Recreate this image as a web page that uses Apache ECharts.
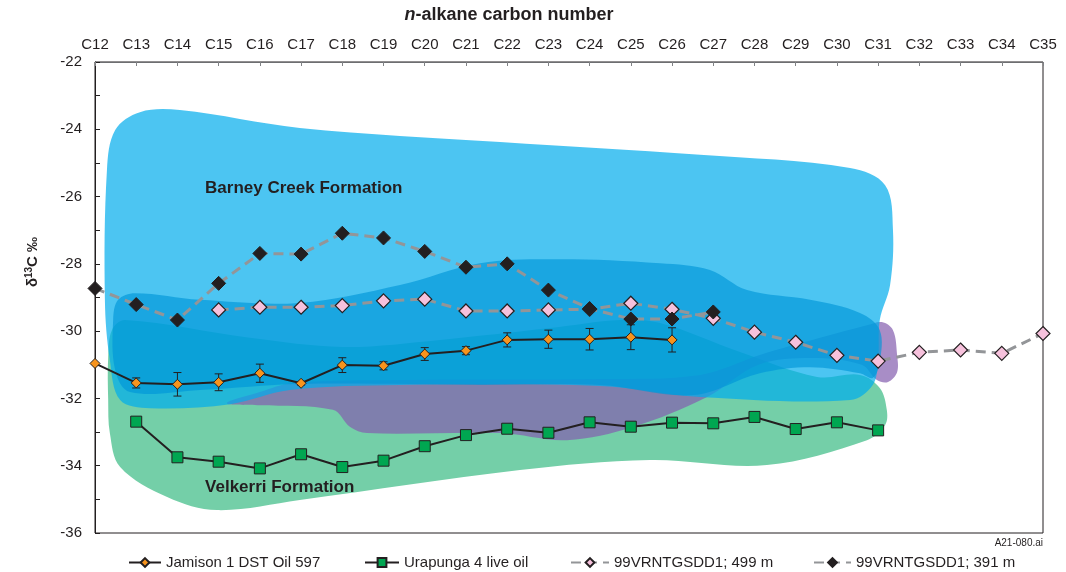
<!DOCTYPE html>
<html>
<head>
<meta charset="utf-8">
<title>n-alkane carbon isotopes</title>
<style>
  html, body { margin: 0; padding: 0; background: #fff; }
  #chart { width: 1066px; height: 572px; }
</style>
<script src="https://cdn.jsdelivr.net/npm/echarts@6/dist/echarts.min.js"></script>
</head>
<body>
<div id="chart"></div>
<script>
// ── data ─────────────────────────────────────────────────────────────
const carbonLabels = ['C12','C13','C14','C15','C16','C17','C18','C19','C20','C21','C22','C23',
                      'C24','C25','C26','C27','C28','C29','C30','C31','C32','C33','C34','C35'];

const jamison = [-30.96,-31.54,-31.58,-31.52,-31.25,-31.55,-31.01,-31.03,-30.68,-30.58,-30.26,-30.24,
                 -30.24,-30.18,-30.26,null,null,null,null,null,null,null,null,null];
const jamisonErr = [0,0.15,0.35,0.25,0.27,0.05,0.22,0.12,0.19,0.12,0.21,0.27,0.32,0.37,0.36];

const urapunga = [null,-32.69,-33.75,-33.88,-34.08,-33.66,-34.04,-33.85,-33.42,-33.09,-32.90,-33.02,
                  -32.71,-32.84,-32.72,-32.74,-32.55,-32.91,-32.71,-32.95,null,null,null,null];

const vrn499 = [null,null,null,-29.37,-29.29,-29.29,-29.24,-29.10,-29.05,-29.40,-29.40,-29.37,
                -29.35,-29.17,-29.35,-29.62,-30.03,-30.33,-30.72,-30.89,-30.63,-30.56,-30.66,-30.07];

const vrn391 = [-28.73,-29.21,-29.67,-28.58,-27.69,-27.71,-27.09,-27.23,-27.63,-28.10,-28.00,-28.78,
                -29.33,-29.64,-29.64,-29.43,null,null,null,null,null,null,null,null];

// formation envelopes, [carbon number, d13C]
const barneyOutline = [[12.49,-24.02],[13.09,-23.49],[14.06,-23.43],[16.97,-23.96],[21.83,-24.38],
  [26.68,-24.76],[30.32,-25.15],[31.17,-25.66],[31.36,-26.99],[31.29,-28.63],[31.04,-29.67],
  [31.00,-30.86],[30.87,-31.60],[30.32,-32.05],[26.68,-31.96],[24.25,-31.63],[19.40,-31.60],
  [16.73,-31.75],[15.28,-32.17],[13.33,-32.29],[12.61,-32.05],[12.36,-30.86],[12.24,-29.07],[12.29,-25.21]];

const innerOutline = [[12.56,-29.07],[12.97,-28.87],[14.55,-29.07],[16.97,-29.16],[19.40,-28.63],
  [21.34,-27.98],[23.28,-27.86],[25.71,-27.98],[26.92,-28.18],[27.82,-28.78],[29.35,-29.07],
  [30.56,-29.46],[31.04,-29.97],[31.04,-30.92],[30.87,-31.39],[30.56,-31.25],[29.35,-31.07],
  [28.13,-31.25],[26.51,-31.90],[24.25,-31.60],[21.34,-31.60],[16.97,-31.57],[14.55,-31.75],
  [12.85,-31.81],[12.49,-31.16],[12.44,-29.67]];

const velkerriOutline = [[12.32,-30.77],[12.41,-29.97],[12.73,-29.67],[15.76,-30.20],[18.02,-30.47],
  [20.37,-30.26],[23.04,-29.91],[24.74,-29.67],[25.71,-29.76],[27.65,-30.62],[29.52,-31.36],
  [30.56,-31.30],[31.04,-31.69],[31.21,-32.34],[31.17,-32.79],[30.73,-33.24],[28.30,-33.98],
  [25.46,-33.83],[22.31,-34.13],[16.97,-35.02],[14.96,-35.32],[13.75,-34.93],[12.61,-34.04],
  [12.36,-33.03],[12.32,-32.05]];

const purpleOutline = [[15.20,-32.14],[16.00,-31.81],[16.80,-31.54],[19.40,-31.45],[24.25,-31.42],
  [26.68,-31.30],[28.13,-30.71],[29.59,-30.20],[30.75,-29.82],[31.09,-29.73],[31.36,-29.97],
  [31.46,-30.71],[31.46,-31.22],[31.24,-31.51],[30.97,-31.45],[30.60,-31.00],[29.40,-30.80],
  [28.10,-31.00],[26.85,-31.96],[25.05,-32.85],[23.45,-33.24],[21.83,-33.03],[18.60,-33.03],
  [18.19,-32.85],[17.77,-32.34],[16.00,-32.20]];

const formationNames = ['Barney Creek Formation', 'Velkerri Formation'];
const formationAnchors = [[14.67,-25.75],[14.67,-34.63]];

const seriesNames = ['Jamison 1 DST Oil 597', 'Urapunga 4 live oil', '99VRNTGSDD1; 499 m', '99VRNTGSDD1; 391 m'];

// ── chart ────────────────────────────────────────────────────────────
const INK  = '#231F20';
const FONT = '"Liberation Sans", Arial, sans-serif';

function blob(outline, fill) {
  return {
    type: 'custom', xAxisIndex: 1, yAxisIndex: 0, silent: true, z: 1,
    data: [[12, -22]],
    renderItem: (params, api) => ({
      type: 'polygon',
      shape: { points: outline.map((p) => api.coord(p)), smooth: 0.35 },
      style: { fill },
    }),
  };
}

// one legend box per entry so each sits where the original put it
const legendSlots = [
  { left: 128, width: 32 },
  { left: 364, width: 34 },
  { left: 570, width: 38 },
  { left: 813, width: 37 },
];
const legends = seriesNames.map((name, i) => ({
  data: [name],
  left: legendSlots[i].left, top: 555, padding: 0,
  itemWidth: legendSlots[i].width, itemHeight: 11,
  textStyle: { fontSize: 15, color: INK, fontFamily: FONT },
}));

const chart = echarts.init(document.getElementById('chart'), null, { renderer: 'canvas' });

chart.setOption({
  animation: false,
  backgroundColor: '#fff',
  textStyle: { fontFamily: FONT, color: INK },
  grid: { left: 95, right: 23, top: 62, bottom: 39, show: true, borderColor: INK, borderWidth: 1 },
  legend: legends,
  xAxis: [
    {
      type: 'category', position: 'top', data: carbonLabels, boundaryGap: false,
      axisLine: { lineStyle: { color: '#6D6E71', width: 1 } },
      axisTick: { inside: true, length: 4, lineStyle: { color: '#808285' } },
      axisLabel: { fontSize: 15, color: INK, margin: 10, interval: 0 },
      splitLine: { show: false },
    },
    { type: 'value', min: 12, max: 35, show: false },
  ],
  yAxis: {
    type: 'value', min: -36, max: -22, interval: 1,
    axisLine: { show: true, lineStyle: { color: INK } },
    axisTick: { inside: true, length: 5, lineStyle: { color: INK } },
    axisLabel: {
      fontSize: 15, color: INK, margin: 13,
      formatter: (v) => (v % 2 === 0 ? String(v) : ''),
    },
    splitLine: { show: false },
  },
  graphic: [
    {
      type: 'text', x: 509, y: 15,
      style: {
        text: '{i|n}{b|-alkane carbon number}',
        align: 'center', verticalAlign: 'middle',
        rich: {
          i: { fontFamily: FONT, fontSize: 18, fontWeight: 'bold', fontStyle: 'italic', fill: INK },
          b: { fontFamily: FONT, fontSize: 18, fontWeight: 'bold', fill: INK },
        },
      },
    },
    {
      type: 'text', x: 33, y: 262, rotation: Math.PI / 2,
      style: {
        text: '{a|δ}{s|13}{a|C ‰}',
        align: 'center', verticalAlign: 'middle',
        rich: {
          a: { fontFamily: FONT, fontSize: 15, fontWeight: 'bold', fill: INK, lineHeight: 18 },
          s: { fontFamily: FONT, fontSize: 10, fontWeight: 'bold', fill: INK, verticalAlign: 'top' },
        },
      },
    },
    {
      type: 'text', right: 23, top: 538,
      style: { text: 'A21-080.ai', font: '10px ' + FONT, fill: INK },
    },
  ],
  series: [
    blob(velkerriOutline, '#74CFA8'),
    blob(purpleOutline, 'rgba(132,95,174,0.71)'),
    blob(barneyOutline, 'rgba(0,173,236,0.70)'),
    blob(innerOutline, 'rgba(0,150,215,0.66)'),
    {
      type: 'custom', xAxisIndex: 1, silent: true, z: 2,
      data: formationAnchors,
      renderItem: (params, api) => {
        const pt = api.coord([api.value(0), api.value(1)]);
        return {
          type: 'text', x: pt[0], y: pt[1],
          style: {
            text: formationNames[params.dataIndex],
            font: 'bold 17px ' + FONT, fill: INK,
            align: 'left', verticalAlign: 'middle',
          },
        };
      },
    },
    {
      // error bars for Jamison
      type: 'custom', xAxisIndex: 0, silent: true, z: 2,
      data: jamisonErr.map((e, i) => [i, jamison[i] - e, jamison[i] + e]).filter((d, i) => jamisonErr[i] > 0),
      renderItem: (params, api) => {
        const lo = api.coord([api.value(0), api.value(1)]);
        const hi = api.coord([api.value(0), api.value(2)]);
        const w = 4;
        const st = { stroke: INK, lineWidth: 1 };
        return {
          type: 'group',
          children: [
            { type: 'line', shape: { x1: lo[0], y1: lo[1], x2: hi[0], y2: hi[1] }, style: st },
            { type: 'line', shape: { x1: lo[0] - w, y1: lo[1], x2: lo[0] + w, y2: lo[1] }, style: st },
            { type: 'line', shape: { x1: hi[0] - w, y1: hi[1], x2: hi[0] + w, y2: hi[1] }, style: st },
          ],
        };
      },
    },
    {
      name: seriesNames[0], type: 'line', data: jamison, z: 3,
      symbol: 'diamond', symbolSize: 10,
      lineStyle: { color: INK, width: 2 },
      itemStyle: { color: '#F7941D', borderColor: INK, borderWidth: 1 },
    },
    {
      name: seriesNames[1], type: 'line', data: urapunga, z: 3,
      symbol: 'rect', symbolSize: 11,
      lineStyle: { color: INK, width: 2 },
      itemStyle: { color: '#00A651', borderColor: INK, borderWidth: 1 },
    },
    {
      name: seriesNames[2], type: 'line', data: vrn499, z: 3,
      symbol: 'diamond', symbolSize: 14,
      lineStyle: { color: '#939598', width: 3, type: [10, 6] },
      itemStyle: { color: '#F6C1DC', borderColor: INK, borderWidth: 1.2 },
    },
    {
      name: seriesNames[3], type: 'line', data: vrn391, z: 3,
      symbol: 'diamond', symbolSize: 14,
      lineStyle: { color: '#939598', width: 3, type: [10, 6] },
      itemStyle: { color: INK, borderColor: INK, borderWidth: 1 },
    },
  ],
});
</script>
</body>
</html>
